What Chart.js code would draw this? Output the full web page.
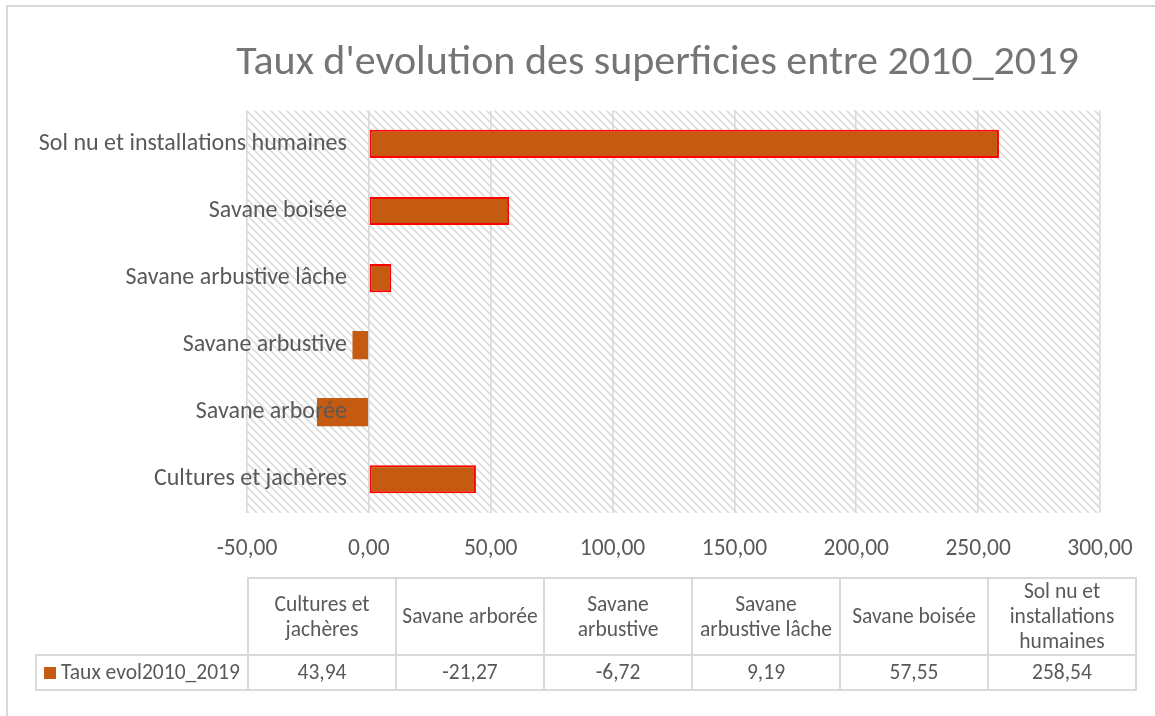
<!DOCTYPE html>
<html>
<head>
<meta charset="utf-8">
<script src="https://cdn.jsdelivr.net/npm/chart.js@4/dist/chart.umd.min.js"></script>
<style>
  html, body { margin: 0; padding: 0; background: #fff; }
  body { width: 1155px; height: 716px; overflow: hidden; position: relative; font-family: Carlito, Lato, sans-serif; }
  #frame { position: absolute; left: 6px; top: 5px; width: 1200px; height: 800px; border-left: 2px solid #d9d9d9; border-top: 2px solid #d9d9d9; }
  #chart { position: absolute; left: 0; top: 0; }
  #table { position: absolute; left: 35px; top: 577px; width: 1100px; table-layout: fixed; border-collapse: collapse; color: #595959; font-size: 21.5px; }
  #table td { border: 2px solid #d9d9d9; text-align: center; padding: 0 2px; line-height: 25px; }
  #table td.blank { border: none; }
  #table tr.head td { height: 75px; }
  #table tr.vals td { height: 33px; }
  #table td.leg { text-align: left; padding-left: 7px; white-space: nowrap; }
  .key { display: inline-block; width: 12px; height: 12px; background: #C55A11; margin-right: 5px; vertical-align: 0px; }
</style>
</head>
<body>
<div id="frame"></div>
<canvas id="chart" width="1155" height="716"></canvas>
<table id="table"><colgroup><col style="width:212px"><col span="6" style="width:148px"></colgroup></table>
<script>
// donnees
const titre = "Taux d'evolution des superficies entre 2010_2019";
const serie = 'Taux evol2010_2019';
const categories = ['Cultures et jachères', 'Savane arborée', 'Savane arbustive', 'Savane arbustive lâche', 'Savane boisée', 'Sol nu et installations humaines'];
const entetes = [['Cultures et', 'jachères'], ['Savane arborée'], ['Savane', 'arbustive'], ['Savane', 'arbustive lâche'], ['Savane boisée'], ['Sol nu et', 'installations', 'humaines']];
const valeurs = [43.94, -21.27, -6.72, 9.19, 57.55, 258.54];
const xMin = -50, xMax = 300, xPas = 50;

const gris = '#595959';
const orange = '#C55A11';
const police = 'Carlito, Lato, sans-serif';

const fmt = v => v.toFixed(2).replace('.', ',');

// fond hachuré de la zone de tracé
const motif = document.createElement('canvas');
motif.width = 8; motif.height = 8;
(() => {
    const g = motif.getContext('2d');
    g.strokeStyle = '#dcdcdc';
    g.lineWidth = 1.8;
    g.beginPath();
    g.moveTo(-1, -1); g.lineTo(9, 9);
    g.moveTo(-5, 3); g.lineTo(1, 9);
    g.moveTo(3, -5); g.lineTo(9, 1);
    g.stroke();
})();

const hachures = {
    id: 'hachures',
    beforeDraw(chart) {
        const { ctx, chartArea: a } = chart;
        ctx.save();
        ctx.fillStyle = ctx.createPattern(motif, 'repeat');
        ctx.fillRect(a.left, a.top, a.right - a.left, a.bottom - a.top);
        ctx.restore();
    }
};

new Chart(document.getElementById('chart').getContext('2d'), {
    type: 'bar',
    data: {
        labels: categories,
        datasets: [{
            label: serie,
            data: valeurs,
            backgroundColor: orange,
            borderColor: '#FF0000',
            borderWidth: ctx => ctx.raw > 0 ? 2 : 0,
            borderSkipped: false,
            categoryPercentage: 1,
            barPercentage: 0.42
        }]
    },
    options: {
        indexAxis: 'y',
        responsive: false,
        animation: false,
        layout: { padding: { left: 215, right: 55, top: 0, bottom: 131 } },
        plugins: {
            legend: { display: false },
            tooltip: { enabled: false },
            title: {
                display: true,
                text: titre,
                color: '#757575',
                font: { family: police, size: 42, weight: 'normal' },
                padding: { top: 38, bottom: 22 }
            }
        },
        scales: {
            x: {
                min: xMin, max: xMax,
                ticks: { stepSize: xPas, callback: v => fmt(v), color: gris, font: { family: police, size: 23.5 }, padding: 22 },
                grid: { color: '#d9d9d9', lineWidth: 1.6, drawTicks: false },
                border: { display: false }
            },
            y: {
                reverse: true,
                position: { x: -9 },
                ticks: { z: 1, color: gris, font: { family: police, size: 24 } },
                grid: { display: false },
                border: { display: false }
            },
            // marge invisible à gauche de la zone de tracé
            marge: {
                type: 'linear',
                axis: 'y',
                position: 'left',
                ticks: { display: false },
                grid: { display: false },
                border: { display: false },
                afterFit: s => { s.width = 32; }
            }
        }
    },
    plugins: [hachures]
});

// table de données sous le graphique
const table = document.getElementById('table');
let html = '<tr class="head"><td class="blank"></td>';
entetes.forEach(e => { html += `<td>${e.join('<br>')}</td>`; });
html += '</tr>';
html += `<tr class="vals"><td class="leg"><span class="key"></span>${serie}</td>`;
valeurs.forEach(v => { html += `<td>${fmt(v)}</td>`; });
html += '</tr>';
table.insertAdjacentHTML('beforeend', html);
</script>
</body>
</html>
